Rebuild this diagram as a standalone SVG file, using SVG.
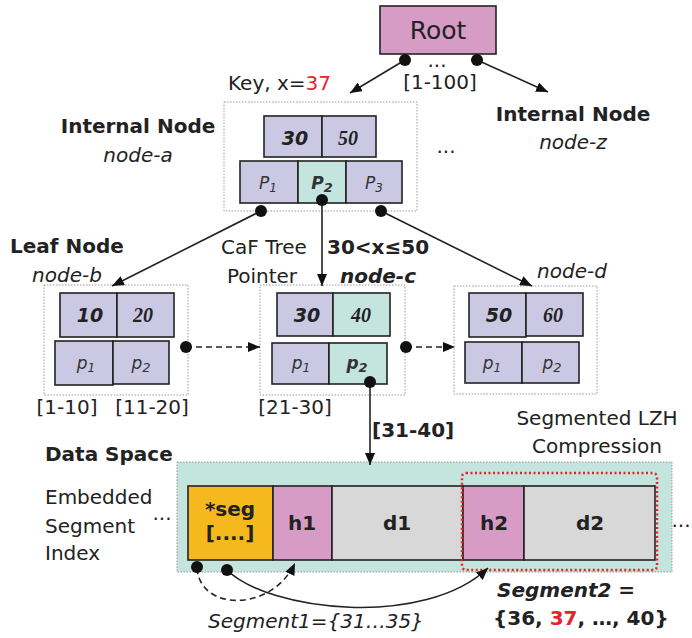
<svg xmlns="http://www.w3.org/2000/svg" width="692" height="638" viewBox="0 0 692 638">
  <defs>
    <marker id="arrow" viewBox="0 0 12 10" refX="12" refY="5" markerWidth="12" markerHeight="10" markerUnits="userSpaceOnUse" orient="auto">
      <path d="M0,0 L12,5 L0,10 Z" fill="#111"/>
    </marker>
    <style>
      text { font-family: "DejaVu Sans", Verdana, sans-serif; fill: #222; }
      .lbl { font-size: 20px; }
      .bold { font-weight: bold; }
      .it { font-style: italic; }
      .frame { fill: #fff; stroke: #999; stroke-width: 1; stroke-dasharray: 1.5 1.5; }
      .cell { stroke: #222; stroke-width: 1.6; }
      .lav { fill: #CBC8E3; }
      .teal { fill: #C4E5DD; }
      .pink { fill: #D69CC6; }
      .orange { fill: #F5B91E; }
      .gray { fill: #D8D8D8; }
      .key { font-size: 19px; font-weight: bold; font-style: italic; text-anchor: middle; }
      .skey { font-family: "Liberation Serif", "Times New Roman", serif; font-size: 20px; font-weight: bold; font-style: italic; text-anchor: middle; }
      .ptr { font-size: 17px; font-style: italic; text-anchor: middle; fill: #333; }
      .mid { text-anchor: middle; }
      .dot { fill: #111; }
      .edge { fill: none; stroke: #222; stroke-width: 1.6; }
      .dash { stroke-dasharray: 6 4; }
      .red { fill: #E8232A; }
    </style>
  </defs>

  <!-- root -->
  <g id="root">
    <rect x="380" y="6" width="116" height="48" class="cell pink"/>
    <text x="438" y="39" font-size="25" class="mid">Root</text>
    <text x="437" y="67" class="lbl mid">...</text>
    <text x="440" y="89" class="lbl mid">[1-100]</text>
  </g>

  <text x="228" y="90" class="lbl">Key, x=<tspan class="red">37</tspan></text>

  <!-- internal node a -->
  <g id="node-a">
    <text x="138" y="133" class="lbl bold mid">Internal Node</text>
    <text x="138" y="162" class="lbl it mid">node-a</text>
    <rect x="224" y="102" width="193" height="109" class="frame"/>
    <rect x="264" y="116" width="58" height="41" class="cell lav"/>
    <rect x="322" y="116" width="54" height="41" class="cell lav"/>
    <text x="295" y="145" class="key">30</text>
    <text x="348" y="145" class="skey">50</text>
    <rect x="240" y="161" width="58" height="42" class="cell lav"/>
    <rect x="298" y="161" width="48" height="42" class="cell teal"/>
    <rect x="346" y="161" width="56" height="42" class="cell lav"/>
    <text x="268" y="189" class="ptr">P<tspan font-size="12" dy="3">1</tspan></text>
    <text x="322" y="189" class="ptr bold" fill="#111">P<tspan font-size="13" dy="3">2</tspan></text>
    <text x="374" y="189" class="ptr">P<tspan font-size="12" dy="3">3</tspan></text>
  </g>

  <!-- internal node z -->
  <g id="node-z">
    <text x="573" y="121" class="lbl bold mid">Internal Node</text>
    <text x="573" y="149" class="lbl it mid">node-z</text>
  </g>
  <text x="446" y="153" class="lbl mid">...</text>

  <!-- leaf node b -->
  <g id="node-b">
    <text x="10" y="253" class="lbl bold">Leaf Node</text>
    <text x="67" y="282" class="lbl it mid">node-b</text>
    <rect x="44" y="285" width="144" height="110" class="frame"/>
    <rect x="60" y="293" width="57" height="44" class="cell lav"/>
    <rect x="117" y="293" width="57" height="44" class="cell lav"/>
    <text x="90" y="322" class="key">10</text>
    <text x="143" y="322" class="skey">20</text>
    <rect x="55" y="341" width="58" height="44" class="cell lav"/>
    <rect x="113" y="341" width="56" height="43" class="cell lav"/>
    <text x="86" y="369" class="ptr">p<tspan font-size="12" dy="3">1</tspan></text>
    <text x="141" y="369" class="ptr">p<tspan font-size="13" dy="3">2</tspan></text>
    <text x="67" y="414" class="lbl mid">[1-10]</text>
    <text x="152" y="414" class="lbl mid">[11-20]</text>
  </g>

  <!-- leaf node c -->
  <g id="node-c">
    <text x="264" y="254" class="lbl mid">CaF Tree</text>
    <text x="262" y="283" class="lbl mid">Pointer</text>
    <text x="327" y="254" class="lbl bold">30&lt;x≤50</text>
    <text x="340" y="283" class="lbl bold it">node-c</text>
    <rect x="260" y="285" width="145" height="110" class="frame"/>
    <rect x="277" y="293" width="56" height="43" class="cell lav"/>
    <rect x="333" y="293" width="57" height="43" class="cell teal"/>
    <text x="307" y="322" class="key">30</text>
    <text x="361" y="322" class="skey" font-style="normal">40</text>
    <rect x="272" y="343" width="57" height="41" class="cell lav"/>
    <rect x="329" y="343" width="58" height="41" class="cell teal"/>
    <text x="301" y="369" class="ptr">p<tspan font-size="12" dy="3">1</tspan></text>
    <text x="357" y="369" class="ptr bold" fill="#111">p<tspan font-size="13" dy="3">2</tspan></text>
    <text x="295" y="414" class="lbl mid">[21-30]</text>
  </g>

  <!-- leaf node d -->
  <g id="node-d">
    <text x="572" y="278" class="lbl it mid">node-d</text>
    <rect x="454" y="286" width="143" height="108" class="frame"/>
    <rect x="469" y="293" width="57" height="44" class="cell lav"/>
    <rect x="526" y="293" width="57" height="43" class="cell lav"/>
    <text x="499" y="322" class="key">50</text>
    <text x="553" y="322" class="skey">60</text>
    <rect x="465" y="342" width="57" height="41" class="cell lav"/>
    <rect x="522" y="342" width="57" height="41" class="cell lav"/>
    <text x="492" y="369" class="ptr">p<tspan font-size="12" dy="3">1</tspan></text>
    <text x="552" y="369" class="ptr">p<tspan font-size="13" dy="3">2</tspan></text>
  </g>

  <!-- data space -->
  <g id="data-space">
    <text x="45" y="461" class="lbl bold">Data Space</text>
    <text x="45" y="504" class="lbl">Embedded</text>
    <text x="45" y="533" class="lbl">Segment</text>
    <text x="45" y="560" class="lbl">Index</text>
    <text x="597" y="425" class="lbl mid">Segmented LZH</text>
    <text x="597" y="453" class="lbl mid">Compression</text>
    <text x="372" y="437" class="lbl bold">[31-40]</text>
    <rect x="177" y="462" width="495" height="110" fill="#C4E5DD" stroke="#999" stroke-width="1" stroke-dasharray="1.5 1.5"/>
    <text x="162" y="520" class="lbl mid">...</text>
    <text x="681" y="527" class="lbl mid">...</text>
    <rect x="188" y="486" width="85" height="74" class="cell orange"/>
    <rect x="273" y="486" width="59" height="74" class="cell pink"/>
    <rect x="332" y="486" width="131" height="74" class="cell gray"/>
    <rect x="463" y="486" width="61" height="74" class="cell pink"/>
    <rect x="524" y="486" width="131" height="74" class="cell gray"/>
    <text x="230" y="516" class="lbl bold mid">*seg</text>
    <text x="230" y="540" class="lbl bold mid">[....]</text>
    <text x="302" y="530" class="lbl bold mid">h1</text>
    <text x="397" y="530" class="lbl bold mid">d1</text>
    <text x="494" y="530" class="lbl bold mid">h2</text>
    <text x="590" y="530" class="lbl bold mid">d2</text>
    <rect x="462" y="473" width="195" height="97" rx="4" fill="none" stroke="#E8232A" stroke-width="2.5" stroke-dasharray="2 2.5"/>
    <text x="208" y="628" class="lbl it">Segment1={31…35}</text>
    <text x="497" y="597" class="lbl bold it">Segment2 =</text>
    <text x="493" y="625" class="lbl bold">{36, <tspan class="red">37</tspan>, …, 40}</text>
  </g>

  <!-- connectors -->
  <g id="connectors">
    <line x1="405" y1="60" x2="350" y2="93" class="edge" marker-end="url(#arrow)"/>
    <line x1="477" y1="60" x2="548" y2="92" class="edge" marker-end="url(#arrow)"/>
    <line x1="261" y1="211" x2="112" y2="286" class="edge" marker-end="url(#arrow)"/>
    <line x1="322" y1="200" x2="322" y2="286" class="edge" marker-end="url(#arrow)"/>
    <line x1="381" y1="211" x2="532" y2="286" class="edge" marker-end="url(#arrow)"/>
    <line x1="186" y1="347" x2="260" y2="347" class="edge dash" marker-end="url(#arrow)"/>
    <line x1="406" y1="347" x2="455" y2="347" class="edge dash" marker-end="url(#arrow)"/>
    <line x1="370" y1="382" x2="370" y2="465" class="edge" marker-end="url(#arrow)"/>
    <path d="M197,568 C200,612 272,612 295,563" class="edge dash" marker-end="url(#arrow)"/>
    <path d="M227,570 C270,612 425,628 488,568" class="edge" marker-end="url(#arrow)"/>
    <circle cx="405" cy="60" r="6" class="dot"/>
    <circle cx="477" cy="60" r="6" class="dot"/>
    <circle cx="261" cy="211" r="6" class="dot"/>
    <circle cx="322" cy="200" r="6" class="dot"/>
    <circle cx="381" cy="211" r="6" class="dot"/>
    <circle cx="186" cy="347" r="6" class="dot"/>
    <circle cx="406" cy="347" r="6" class="dot"/>
    <circle cx="370" cy="382" r="6" class="dot"/>
    <circle cx="197" cy="567" r="6" class="dot"/>
    <circle cx="227" cy="570" r="6" class="dot"/>
  </g>
</svg>
